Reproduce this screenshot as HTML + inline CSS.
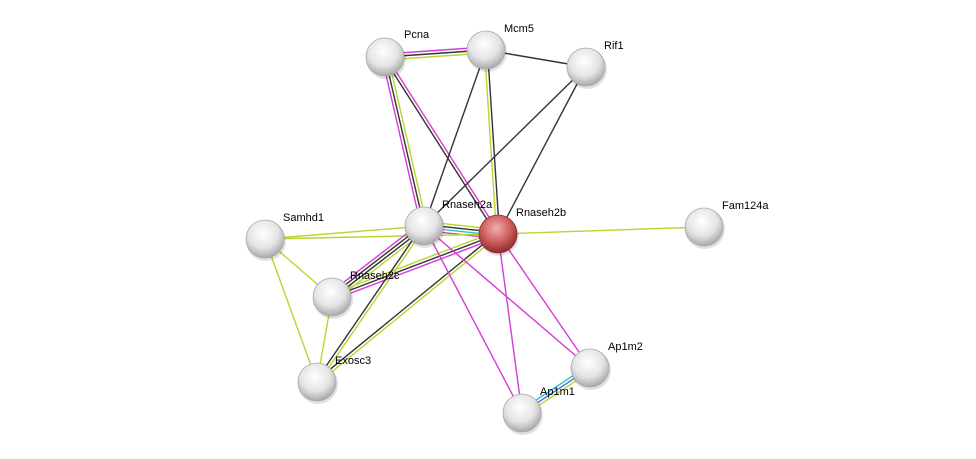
<!DOCTYPE html>
<html><head><meta charset="utf-8"><style>
html,body{margin:0;padding:0;background:#fff;width:976px;height:459px;overflow:hidden}
svg text{font-family:"Liberation Sans",sans-serif;font-size:11px;fill:#000}
</style></head><body>
<svg id="s" width="976" height="459" xmlns="http://www.w3.org/2000/svg">
<defs>
<radialGradient id="g" cx="0.45" cy="0.35" r="0.65">
<stop offset="0" stop-color="#ffffff"/><stop offset="0.6" stop-color="#e4e4e4"/><stop offset="1" stop-color="#a8a8a8"/></radialGradient>
<radialGradient id="r" cx="0.45" cy="0.35" r="0.65">
<stop offset="0" stop-color="#f0b0b0"/><stop offset="0.55" stop-color="#d06060"/><stop offset="1" stop-color="#902a2a"/></radialGradient>
</defs>
<g id="edges"></g>
<g id="nodes"></g>
<text x="404" y="38">Pcna</text>
<text x="504" y="32">Mcm5</text>
<text x="604" y="49">Rif1</text>
<text x="442" y="208">Rnaseh2a</text>
<text x="516" y="216">Rnaseh2b</text>
<text x="722" y="209">Fam124a</text>
<text x="283" y="221">Samhd1</text>
<text x="350" y="279">Rnaseh2c</text>
<text x="335" y="364">Exosc3</text>
<text x="608" y="350">Ap1m2</text>
<text x="540" y="395">Ap1m1</text>
</svg>
<script>
var N={Pcna:[385,57],Mcm5:[486,50],Rif1:[586,67],A:[424,226],B:[498,234],Fam:[704,227],Sam:[265,239],C:[332,297],Ex:[317,382],M2:[590,368],M1:[522,413]};
var col={k:"#333",m:"#d83ad8",y:"#b8d630",c:"#30c0d0",b:"#5070e0"};
var E=[["Pcna","Mcm5","mky"],["Pcna","A","ykm"],["Pcna","B","mk"],["Mcm5","Rif1","k"],["Mcm5","A","k"],["Mcm5","B","ky"],["Rif1","A","k"],["Rif1","B","k"],["A","B","ykcm"],["B","Fam","y"],["Sam","A","y"],["Sam","B","y"],["Sam","C","y"],["Sam","Ex","y"],["C","A","mkky"],["C","B","ykm"],["C","Ex","y"],["Ex","A","ky"],["Ex","B","ky"],["A","M1","m"],["A","M2","m"],["B","M1","m"],["B","M2","m"],["M1","M2","cby"]];
var ns="http://www.w3.org/2000/svg",eg=document.getElementById("edges"),ng=document.getElementById("nodes");
E.forEach(function(e){var p=N[e[0]],q=N[e[1]],dx=q[0]-p[0],dy=q[1]-p[1],L=Math.hypot(dx,dy),nx=-dy/L,ny=dx/L,n=e[2].length;
for(var i=0;i<n;i++){var o=(i-(n-1)/2)*3;var l=document.createElementNS(ns,"line");
l.setAttribute("x1",p[0]+nx*o);l.setAttribute("y1",p[1]+ny*o);l.setAttribute("x2",q[0]+nx*o);l.setAttribute("y2",q[1]+ny*o);
l.setAttribute("stroke",col[e[2][i]]);l.setAttribute("stroke-width","1.4");eg.appendChild(l);}});
for(var k in N){var c=document.createElementNS(ns,"circle");c.setAttribute("cx",N[k][0]+1);c.setAttribute("cy",N[k][1]+2);c.setAttribute("r",20);c.setAttribute("fill","rgba(0,0,0,0.12)");ng.appendChild(c);
c=document.createElementNS(ns,"circle");c.setAttribute("cx",N[k][0]);c.setAttribute("cy",N[k][1]);c.setAttribute("r",19);c.setAttribute("fill",k=="B"?"url(#r)":"url(#g)");c.setAttribute("stroke",k=="B"?"#8a3030":"#aaa");c.setAttribute("stroke-width","0.8");ng.appendChild(c);}
</script>
</body></html>
